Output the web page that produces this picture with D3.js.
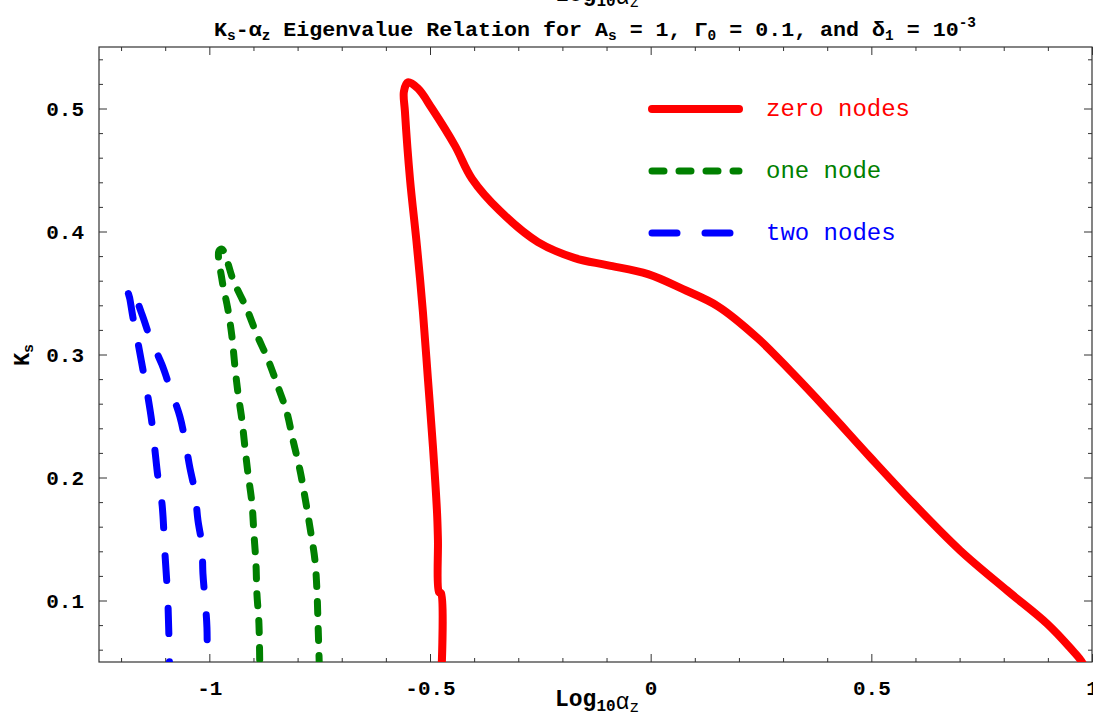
<!DOCTYPE html>
<html>
<head>
<meta charset="utf-8">
<script src="https://cdn.jsdelivr.net/npm/d3@7"></script>
<style>
  body { margin: 0; background: #fff; }
  svg { display: block; }
  text { font-family: "Liberation Mono", "DejaVu Sans Mono", monospace; }
</style>
</head>
<body>
<div id="chart"></div>
<script>
// curve data: [log10 alpha_z, K_s]
var zeroNodes = [
  [-0.4752, 0.030], [-0.4752, 0.1061], [-0.4797, 0.1069], [-0.4820, 0.1492],
  [-0.4840, 0.171],
  [-0.4933, 0.2249], [-0.5046, 0.2796], [-0.5160, 0.3343], [-0.5296, 0.3882],
  [-0.5454, 0.4429], [-0.5568, 0.4976], [-0.5591, 0.5139], [-0.5500, 0.5212],
  [-0.5274, 0.5163], [-0.4956, 0.5000], [-0.4435, 0.4698], [-0.4049, 0.4429],
  [-0.3415, 0.4167], [-0.2554, 0.3914], [-0.1716, 0.3784], [-0.0991, 0.3727],
  [-0.0061, 0.3653], [0.0732, 0.3531], [0.1525, 0.3392], [0.2431, 0.3131],
  [0.3202, 0.2853], [0.3995, 0.2551], [0.4969, 0.2167], [0.5944, 0.1792],
  [0.7009, 0.1408], [0.8074, 0.1082], [0.8981, 0.0812], [0.9502, 0.0616],
  [0.9796, 0.0486], [0.99, 0.035]
];
var oneNode = [
  [-0.8853, 0.030], [-0.8876, 0.0812], [-0.8922, 0.1057], [-0.8944, 0.1302],
  [-0.8990, 0.1547], [-0.9035, 0.1792], [-0.9126, 0.2037], [-0.9194, 0.2249],
  [-0.9262, 0.2469], [-0.9352, 0.2690], [-0.9420, 0.2902], [-0.9488, 0.3147],
  [-0.9579, 0.3367], [-0.9715, 0.3612], [-0.9783, 0.3841], [-0.9715, 0.3857],
  [-0.9624, 0.3792], [-0.9466, 0.3612], [-0.9148, 0.3367], [-0.8922, 0.3160],
  [-0.8672, 0.2959], [-0.8446, 0.2739], [-0.8242, 0.2527], [-0.8106, 0.2306],
  [-0.7947, 0.2061], [-0.7834, 0.1841], [-0.7720, 0.1596], [-0.7607, 0.1327],
  [-0.7562, 0.1082], [-0.7539, 0.0837], [-0.7494, 0.030]
];
var twoNodes = [
  [-1.0893, 0.030], [-1.0938, 0.0976], [-1.1006, 0.1384], [-1.1074, 0.1792],
  [-1.1165, 0.2004], [-1.1233, 0.2224], [-1.1301, 0.2445], [-1.1392, 0.2657],
  [-1.1505, 0.2878], [-1.1618, 0.3098], [-1.1731, 0.3302], [-1.1799, 0.3449],
  [-1.1845, 0.3531], [-1.1777, 0.3539], [-1.1527, 0.3327], [-1.1346, 0.3139],
  [-1.1074, 0.2918], [-1.0893, 0.2731], [-1.0666, 0.2494], [-1.0553, 0.2306],
  [-1.0440, 0.2078], [-1.0326, 0.1882], [-1.0258, 0.1653], [-1.0168, 0.1449],
  [-1.0145, 0.1220], [-1.0100, 0.1016], [-1.0054, 0.0780], [-1.0054, 0.030]
];

var xTicks = [-1, -0.5, 0, 0.5, 1];
var yTicks = [0.1, 0.2, 0.3, 0.4, 0.5];
var legendLabels = ["zero nodes", "one node", "two nodes"];

var W = 1093, H = 717;
var mLeft = 99, mRight = 1092, mTop = 47, mBottom = 662;

var svg = d3.select("#chart").append("svg")
  .attr("width", W).attr("height", H);

var x = d3.scaleLinear().domain([-1.25, 1.0]).range([mLeft, mRight]);
var y = d3.scaleLinear().domain([0.05, 0.55]).range([mBottom, mTop]);

var xMinor = d3.range(-1.2, 1.001, 0.1).filter(function(v) {
  return Math.abs(v * 2 - Math.round(v * 2)) > 1e-6;
});
var yMinor = d3.range(0.06, 0.55, 0.02).filter(function(v) {
  return Math.abs(v * 10 - Math.round(v * 10)) > 1e-6;
});

var fmtX = function(d) { return d === 0 ? "0" : String(d); };
var fmtY = d3.format(".1f");

// axes, ticks pointing inward on all four sides
function styleAxis(g) {
  g.select(".domain").remove();
  g.selectAll("line").attr("stroke", "#333").attr("stroke-width", 1);
  g.selectAll("text").attr("font-size", 21).attr("font-weight", "bold")
    .attr("fill", "#000").style("font-family", "'Liberation Mono', monospace");
}
svg.append("g").attr("transform", "translate(0," + mBottom + ")")
  .call(d3.axisBottom(x).tickValues(xTicks).tickSize(-8).tickPadding(18).tickFormat(fmtX)).call(styleAxis);
svg.append("g").attr("transform", "translate(0," + mBottom + ")")
  .call(d3.axisBottom(x).tickValues(xMinor).tickSize(-4).tickFormat("")).call(styleAxis);
svg.append("g").attr("transform", "translate(0," + mTop + ")")
  .call(d3.axisTop(x).tickValues(xTicks).tickSize(-8).tickFormat("")).call(styleAxis);
svg.append("g").attr("transform", "translate(0," + mTop + ")")
  .call(d3.axisTop(x).tickValues(xMinor).tickSize(-4).tickFormat("")).call(styleAxis);
svg.append("g").attr("transform", "translate(" + mLeft + ",0)")
  .call(d3.axisLeft(y).tickValues(yTicks).tickSize(-8).tickPadding(15).tickFormat(fmtY)).call(styleAxis);
svg.append("g").attr("transform", "translate(" + mLeft + ",0)")
  .call(d3.axisLeft(y).tickValues(yMinor).tickSize(-4).tickFormat("")).call(styleAxis);
svg.append("g").attr("transform", "translate(" + mRight + ",0)")
  .call(d3.axisRight(y).tickValues(yTicks).tickSize(-8).tickFormat("")).call(styleAxis);
svg.append("g").attr("transform", "translate(" + mRight + ",0)")
  .call(d3.axisRight(y).tickValues(yMinor).tickSize(-4).tickFormat("")).call(styleAxis);

svg.append("rect")
  .attr("x", mLeft).attr("y", mTop)
  .attr("width", mRight - mLeft).attr("height", mBottom - mTop)
  .attr("fill", "none").attr("stroke", "#333").attr("stroke-width", 1.2);

// curves
svg.append("clipPath").attr("id", "clip").append("rect")
  .attr("x", mLeft).attr("y", mTop).attr("width", mRight - mLeft).attr("height", mBottom - mTop);

var line = d3.line()
  .x(function(d) { return x(d[0]); })
  .y(function(d) { return y(d[1]); })
  .curve(d3.curveCatmullRom.alpha(0.5));

var series = [
  { data: zeroNodes, color: "#ff0000", width: 8, dash: null },
  { data: oneNode, color: "#008000", width: 7, dash: "12,15" },
  { data: twoNodes, color: "#0000ff", width: 7, dash: "25,28" }
];

var plot = svg.append("g").attr("clip-path", "url(#clip)");
series.forEach(function(s) {
  plot.append("path").datum(s.data)
    .attr("d", line)
    .attr("fill", "none")
    .attr("stroke", s.color)
    .attr("stroke-width", s.width)
    .attr("stroke-linejoin", "round")
    .attr("stroke-linecap", "round")
    .attr("stroke-dasharray", s.dash);
});

// legend
var legendY = [109, 171, 233];
series.forEach(function(s, i) {
  svg.append("line")
    .attr("x1", 652).attr("x2", 739)
    .attr("y1", legendY[i]).attr("y2", legendY[i])
    .attr("stroke", s.color).attr("stroke-width", s.width)
    .attr("stroke-linecap", "round")
    .attr("stroke-dasharray", s.dash);
  svg.append("text")
    .attr("x", 766).attr("y", legendY[i] + 7)
    .attr("font-size", 24).attr("fill", s.color)
    .text(legendLabels[i]);
});

// title
var title = svg.append("text")
  .attr("x", 595).attr("y", 36)
  .attr("text-anchor", "middle")
  .attr("font-size", 21).attr("font-weight", "bold")
  .attr("textLength", 762).attr("lengthAdjust", "spacingAndGlyphs");
title.append("tspan").text("K");
title.append("tspan").attr("font-size", 14).attr("dy", 4).text("s");
title.append("tspan").attr("dy", -4).text("-α");
title.append("tspan").attr("font-size", 14).attr("dy", 4).text("z");
title.append("tspan").attr("dy", -4).text(" Eigenvalue Relation for A");
title.append("tspan").attr("font-size", 14).attr("dy", 4).text("s");
title.append("tspan").attr("dy", -4).text(" = 1, Γ");
title.append("tspan").attr("font-size", 14).attr("dy", 4).text("0");
title.append("tspan").attr("dy", -4).text(" = 0.1, and δ");
title.append("tspan").attr("font-size", 14).attr("dy", 4).text("1");
title.append("tspan").attr("dy", -4).text(" = 10");
title.append("tspan").attr("font-size", 14).attr("dy", -9).text("-3");

// axis label, drawn bottom and (cropped) top
function axisLabel(yy) {
  var t = svg.append("text")
    .attr("x", 597).attr("y", yy)
    .attr("text-anchor", "middle")
    .attr("font-size", 23).attr("font-weight", "bold");
  t.append("tspan").text("Log");
  t.append("tspan").attr("font-size", 16).attr("dy", 5).text("10");
  t.append("tspan").attr("font-weight", "normal").attr("dy", -2).text("α");
  t.append("tspan").attr("font-size", 16).attr("font-weight", "normal").attr("dy", 3).text("z");
}
axisLabel(706);
axisLabel(1);

var yl = svg.append("text")
  .attr("transform", "translate(29,355) rotate(-90)")
  .attr("text-anchor", "middle")
  .attr("font-size", 22).attr("font-weight", "bold");
yl.append("tspan").text("K");
yl.append("tspan").attr("font-size", 15).attr("dy", 4).text("s");
</script>
</body>
</html>
